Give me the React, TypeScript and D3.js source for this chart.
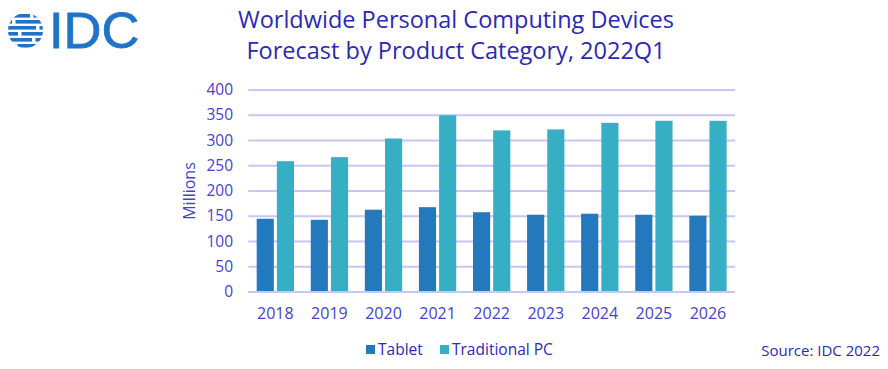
import React from "react";
import * as d3 from "d3";

const years = ["2018", "2019", "2020", "2021", "2022", "2023", "2024", "2025", "2026"];
const seriesNames = ["Tablet", "Traditional PC"];
const tabletValues = [145, 143, 163, 168, 158, 153, 155, 153, 151];
const pcValues = [259, 267, 304, 350, 320, 322, 335, 339, 339];
const yTicks = [0, 50, 100, 150, 200, 250, 300, 350, 400];
const seriesColors = ["#2479BD", "#36AFC5"];

const W = 888;
const H = 369;
const FONT = "'Open Sans', 'Noto Sans', sans-serif";
const TEXT = "#4343CF";
const TITLE = "#2A2AB5";

function Logo() {
  const cx = 25.5;
  const cy = 30.5;
  const r = 17.5;
  const stripes = [
    { y: 14, gapX: 30 },
    { y: 20, gapX: 12 },
    { y: 26, gapX: 36 },
    { y: 32, gapX: 18 },
    { y: 38, gapX: 32 },
    { y: 44, gapX: 14 },
  ];
  return (
    <g>
      <defs>
        <clipPath id="globeClip">
          <circle cx={cx} cy={cy} r={r} />
        </clipPath>
      </defs>
      <g clipPath="url(#globeClip)">
        {stripes.map((s, i) => (
          <g key={i}>
            <rect x={cx - r} y={s.y} width={2 * r} height={3.6} fill="#1F74C9" />
            <rect x={s.gapX} y={s.y - 0.5} width={3.5} height={4.6} fill="#fff" />
          </g>
        ))}
      </g>
      <text
        x={49}
        y={48}
        fontFamily="'Liberation Sans', Arial, sans-serif"
        fontSize={50}
        fill="#1F74C9"
        stroke="#1F74C9"
        strokeWidth={0.8}
        transform="translate(49,0) scale(1.05,1) translate(-49,0)"
      >
        IDC
      </text>
    </g>
  );
}

export default function App() {
  const x0 = d3.scaleBand<string>().domain(years).range([248.3, 735]).paddingInner(0.31).paddingOuter(0.155);
  const x1 = d3.scaleBand<string>().domain(seriesNames).range([0, x0.bandwidth()]).paddingInner(0.15);
  const y = d3.scaleLinear().domain([0, 400]).range([292, 90]);
  const seriesValues = [tabletValues, pcValues];

  return (
    <svg width={W} height={H} style={{ position: "absolute", left: 0, top: 0, background: "#fff" }}>
      <rect width={W} height={H} fill="#fff" />
      <Logo />
      <text x={456} y={28} textAnchor="middle" fontFamily={FONT} fontSize={23.5} fill={TITLE}>
        Worldwide Personal Computing Devices
      </text>
      <text x={456} y={59} textAnchor="middle" fontFamily={FONT} fontSize={23.5} fill={TITLE}>
        Forecast by Product Category, 2022Q1
      </text>

      {yTicks.map((t) => (
        <g key={t}>
          <line x1={248.3} x2={735} y1={y(t)} y2={y(t)} stroke="#C6C6F7" strokeWidth={2} />
          <text x={233} y={y(t) + 5} textAnchor="end" fontFamily={FONT} fontSize={15.5} fill={TEXT}>
            {t}
          </text>
        </g>
      ))}

      <text
        transform={`translate(195, ${y(200)}) rotate(-90)`}
        textAnchor="middle"
        fontFamily={FONT}
        fontSize={16}
        fill={TEXT}
      >
        Millions
      </text>

      {years.map((yr, i) => (
        <g key={yr} transform={`translate(${x0(yr)}, 0)`}>
          {seriesNames.map((s, j) => (
            <rect
              key={s}
              x={x1(s)}
              y={y(seriesValues[j][i])}
              width={x1.bandwidth()}
              height={y(0) - y(seriesValues[j][i]) - 1}
              fill={seriesColors[j]}
            />
          ))}
          <text
            x={x0.bandwidth() / 2}
            y={319}
            textAnchor="middle"
            fontFamily={FONT}
            fontSize={16}
            fill={TEXT}
          >
            {yr}
          </text>
        </g>
      ))}

      <g>
        <rect x={366} y={345} width={9} height={9} fill={seriesColors[0]} />
        <text x={378} y={355} fontFamily={FONT} fontSize={15.5} fill={TITLE}>
          {seriesNames[0]}
        </text>
        <rect x={440} y={345} width={9} height={9} fill={seriesColors[1]} />
        <text x={452} y={355} fontFamily={FONT} fontSize={15.5} fill={TITLE}>
          {seriesNames[1]}
        </text>
      </g>

      <text x={880} y={356} textAnchor="end" fontFamily={FONT} fontSize={15} fill={TITLE}>
        Source: IDC 2022
      </text>
    </svg>
  );
}
